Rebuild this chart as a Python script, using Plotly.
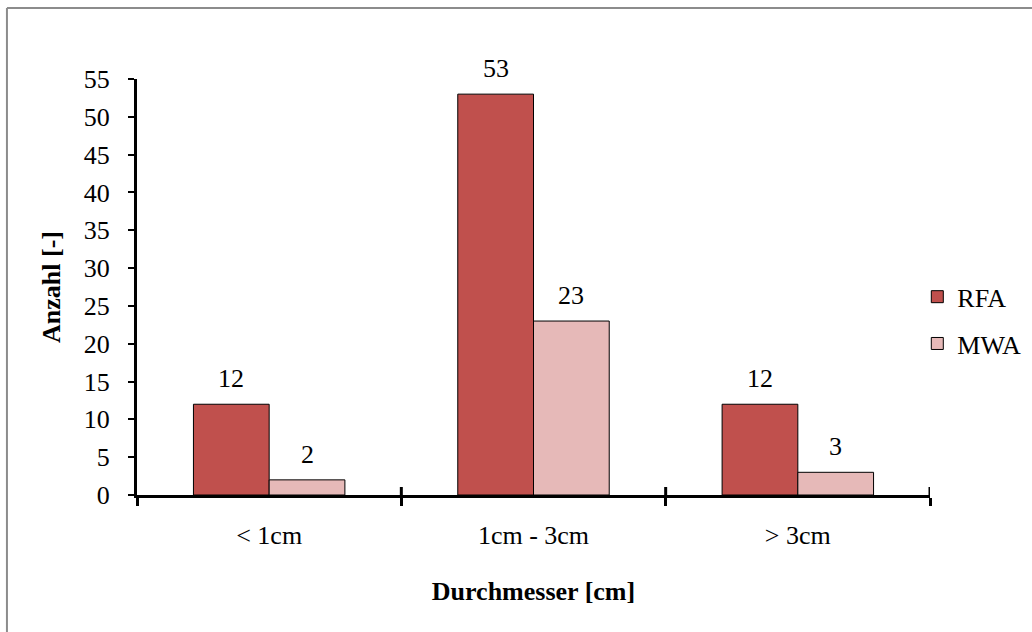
import plotly.graph_objects as go

# Tumour diameter classes and counts per ablation method
categories = ["< 1cm", "1cm - 3cm", "> 3cm"]
rfa_counts = [12, 53, 12]
mwa_counts = [2, 23, 3]
y_ticks = list(range(0, 56, 5))

FONT = "Liberation Serif, Times New Roman, serif"
FS = 26
RFA_COLOR = "#C0504D"
MWA_COLOR = "#E6B9B8"
BARGAP = 0.427
bar_w = (1 - BARGAP) / 2

fig = go.Figure()
fig.add_trace(go.Bar(
    name="RFA", x=categories, y=rfa_counts,
    marker=dict(color=RFA_COLOR, line=dict(color="black", width=1)),
    legendgroup="rfa",
))
fig.add_trace(go.Bar(
    name="MWA", x=categories, y=mwa_counts,
    marker=dict(color=MWA_COLOR, line=dict(color="black", width=1)),
    legendgroup="mwa",
))

# value labels above each bar
annotations = []
for series, offset in ((rfa_counts, -bar_w / 2), (mwa_counts, bar_w / 2)):
    for i, v in enumerate(series):
        annotations.append(dict(
            x=i + offset, y=v, xref="x", yref="y", text=str(v),
            showarrow=False, yanchor="bottom", yshift=9,
            font=dict(family=FONT, size=FS, color="black"),
        ))

# tick marks crossing the category axis at the category boundaries
shapes = []
for b in [0.5, 1.5, 2.5]:
    shapes.append(dict(
        type="line", xref="x", yref="y", x0=b, x1=b,
        ysizemode="pixel", yanchor=0, y0=0, y1=8,
        line=dict(color="black", width=3),
    ))

# chart frame
shapes.append(dict(
    type="line", xref="paper", yref="paper",
    x0=-0.164, x1=-0.164, y0=-0.4, y1=1.1707,
    line=dict(color="#8c8c8c", width=2),
))
shapes.append(dict(
    type="line", xref="paper", yref="paper",
    x0=-0.164, x1=1.2, y0=1.1707, y1=1.1707,
    line=dict(color="#8c8c8c", width=2),
))

fig.update_layout(
    width=1032, height=632,
    margin=dict(l=137, r=102, t=79, b=137, autoexpand=False),
    paper_bgcolor="white", plot_bgcolor="white",
    barmode="group", bargap=BARGAP, bargroupgap=0,
    font=dict(family=FONT, size=FS, color="black"),
    annotations=annotations, shapes=shapes,
    legend=dict(
        x=0.984, xanchor="left", y=0.42, yanchor="middle",
        font=dict(family=FONT, size=FS, color="black"),
        tracegroupgap=10, itemwidth=30, bgcolor="rgba(0,0,0,0)",
    ),
    xaxis=dict(
        type="category", range=[-0.5, 2.5],
        showline=True, linecolor="black", linewidth=3,
        ticks="outside", tickson="boundaries", ticklen=8,
        tickwidth=3, tickcolor="black",
        ticklabelstandoff=15, showgrid=False, zeroline=False,
        title=dict(text="<b>Durchmesser [cm]</b>", standoff=33,
                   font=dict(family=FONT, size=FS)),
    ),
    yaxis=dict(
        range=[0, 55], tickvals=y_ticks,
        showline=True, linecolor="black", linewidth=3,
        ticks="outside", ticklen=6, tickwidth=2, tickcolor="black",
        ticklabelstandoff=13, showgrid=False, zeroline=False,
        title=dict(text="<b>Anzahl [-]</b>", standoff=16,
                   font=dict(family=FONT, size=FS)),
    ),
)

fig.write_html("out.html")
